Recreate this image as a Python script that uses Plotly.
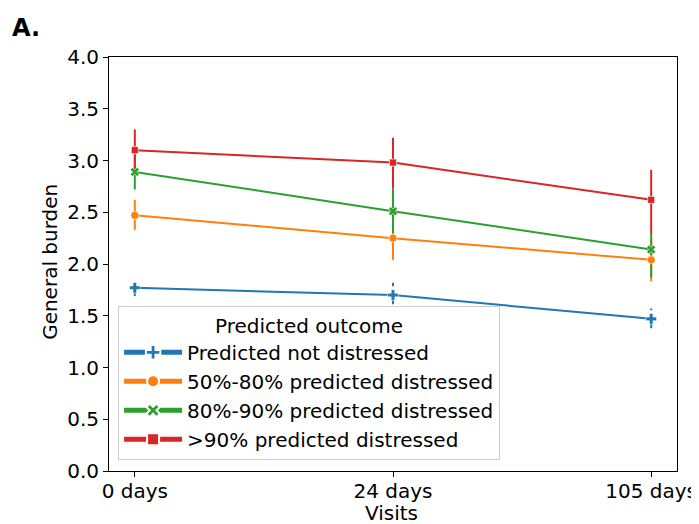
import plotly.graph_objects as go

visits = ["0 days", "24 days", "105 days"]
groups = ["Predicted not distressed", "50%-80% predicted distressed",
          "80%-90% predicted distressed", ">90% predicted distressed"]
means = {
    "Predicted not distressed": [1.77, 1.70, 1.47],
    "50%-80% predicted distressed": [2.47, 2.25, 2.04],
    "80%-90% predicted distressed": [2.89, 2.51, 2.14],
    ">90% predicted distressed": [3.10, 2.98, 2.62],
}
lower = {
    "Predicted not distressed": [1.69, 1.61, 1.38],
    "50%-80% predicted distressed": [2.33, 2.04, 1.83],
    "80%-90% predicted distressed": [2.72, 2.30, 1.87],
    ">90% predicted distressed": [2.92, 2.73, 2.29],
}
upper = {
    "Predicted not distressed": [1.86, 1.82, 1.57],
    "50%-80% predicted distressed": [2.62, 2.45, 2.25],
    "80%-90% predicted distressed": [3.05, 2.73, 2.29],
    ">90% predicted distressed": [3.30, 3.22, 2.91],
}
y_ticks = [0.0, 0.5, 1.0, 1.5, 2.0, 2.5, 3.0, 3.5, 4.0]

colors = ["#1f77b4", "#ff7f0e", "#2ca02c", "#d62728"]
symbols = ["cross", "circle", "x", "square"]
msizes = [9, 8, 8, 7]
dashes = ["dash", "solid", "solid", "solid"]

FONT = "DejaVu Sans"
FS = 20
fig = go.Figure()

# error bars
for g, c, d in zip(groups, colors, dashes):
    xs, ys = [], []
    for v, lo, hi in zip(visits, lower[g], upper[g]):
        xs += [v, v, None]
        ys += [lo, hi, None]
    fig.add_trace(go.Scatter(x=xs, y=ys, mode="lines", line=dict(color=c, width=2, dash=d),
                             showlegend=False, hoverinfo="skip"))

for g, c, s, ms in zip(groups, colors, symbols, msizes):
    fig.add_trace(go.Scatter(
        x=visits, y=means[g], mode="lines+markers", name=g,
        line=dict(color=c, width=2),
        marker=dict(symbol=s, size=ms, color=c, line=dict(color="white", width=0.6)),
    ))

fig.update_layout(
    width=691, height=516,
    margin=dict(l=101, r=22, t=49, b=53),
    plot_bgcolor="white", paper_bgcolor="white",
    font=dict(family=FONT, size=FS, color="black"),
    showlegend=True,
    legend=dict(
        title=dict(text="Predicted outcome", side="top center", font=dict(size=FS)),
        x=0.016, y=0.027, xanchor="left", yanchor="bottom",
        bgcolor="rgba(255,255,255,0.85)", bordercolor="#cccccc", borderwidth=1,
        font=dict(size=FS), tracegroupgap=0, itemsizing="constant", itemwidth=58,
    ),
    xaxis=dict(
        type="category", categoryorder="array", categoryarray=visits,
        range=[-0.1, 2.1], showline=True, linecolor="black", linewidth=1, mirror=True,
        ticks="outside", ticklen=5, tickcolor="black", showgrid=False, automargin=False,
        tickfont=dict(size=FS), ticklabelstandoff=-3,
    ),
    yaxis=dict(
        range=[0, 4], tickvals=y_ticks, ticktext=[f"{t:.1f}" for t in y_ticks],
        showline=True, linecolor="black", linewidth=1, mirror=True, automargin=False,
        ticks="outside", ticklen=5, tickcolor="black", showgrid=False, zeroline=False,
        tickfont=dict(size=FS),
    ),
    annotations=[
        dict(text="<b>A.</b>", xref="paper", yref="paper", x=-0.175, y=1.109,
             xanchor="left", yanchor="top", showarrow=False,
             font=dict(size=24, family=FONT)),
        dict(text="Visits", xref="paper", yref="paper", x=0.498, y=-0.101,
             xanchor="center", yanchor="middle", showarrow=False, font=dict(size=FS)),
        dict(text="General burden", xref="paper", yref="paper", x=-0.104, y=0.505,
             xanchor="center", yanchor="middle", textangle=-90, showarrow=False,
             font=dict(size=FS)),
    ],
)

fig.write_html("out.html")
